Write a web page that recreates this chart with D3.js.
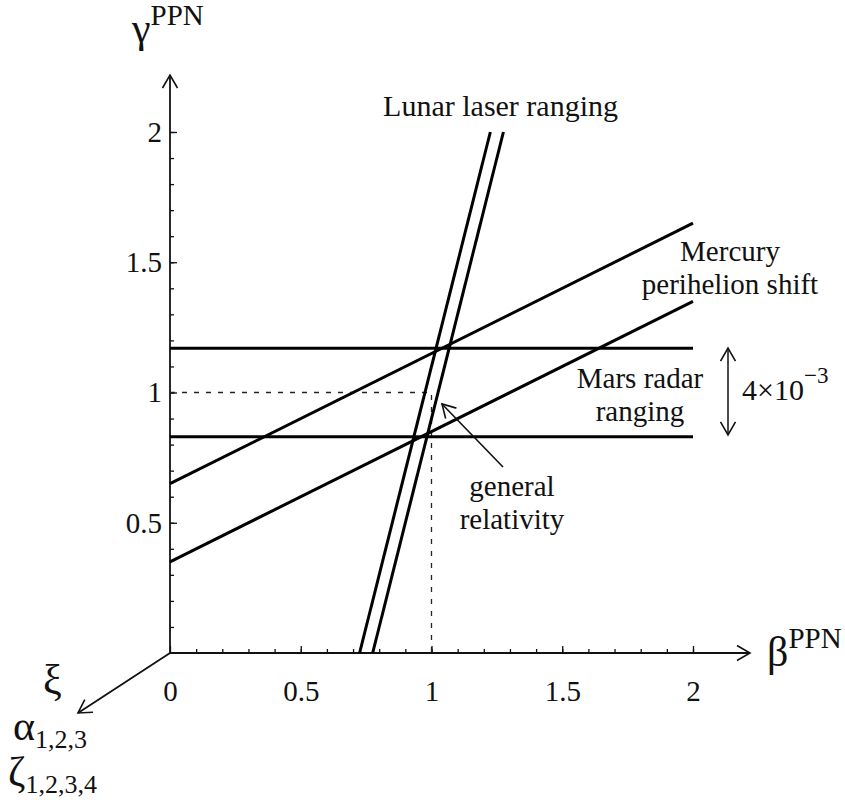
<!DOCTYPE html>
<html>
<head>
<meta charset="utf-8">
<script src="https://cdn.jsdelivr.net/npm/d3@7"></script>
<style>
  body { margin: 0; background: #fff; }
  svg { display: block; font-family: "Liberation Serif", "Times New Roman", serif; }
</style>
</head>
<body>
<svg id="chart" width="845" height="800"></svg>
<script>
"use strict";

// tick labels
const xTicks = [0, 0.5, 1, 1.5, 2];
const yTicks = [0.5, 1, 1.5, 2];
const minorTicks = d3.range(1, 21).map(i => i / 10);

// Mars radar ranging: gamma = const
const marsGamma = [0.83, 1.17];
// Mercury perihelion shift: gamma = c + beta / 2
const mercuryC = [0.35, 0.65];
// Lunar laser ranging: gamma = 4 beta + c
const lunarC = [-2.9, -3.1];
// general relativity
const grPoint = [1, 1];

const x = d3.scaleLinear().domain([0, 2]).range([170, 693]);
const y = d3.scaleLinear().domain([0, 2]).range([653, 132]);

const svg = d3.select("#chart");

const defs = svg.append("defs");
defs.append("marker")
  .attr("id", "arrow")
  .attr("viewBox", "-15 -10 17 20")
  .attr("refX", 0)
  .attr("refY", 0)
  .attr("markerUnits", "userSpaceOnUse")
  .attr("markerWidth", 17)
  .attr("markerHeight", 20)
  .attr("orient", "auto-start-reverse")
  .append("path")
  .attr("d", "M-13,-7.5L0,0L-13,7.5")
  .attr("fill", "none")
  .attr("stroke", "#111")
  .attr("stroke-width", 1.6);

// axes lines with arrows
const axisG = svg.append("g").attr("stroke", "#111").attr("stroke-width", 1.8);
axisG.append("line")
  .attr("x1", x(0)).attr("y1", y(0)).attr("x2", 750).attr("y2", y(0))
  .attr("marker-end", "url(#arrow)");
axisG.append("line")
  .attr("x1", x(0)).attr("y1", y(0)).attr("x2", x(0)).attr("y2", 75)
  .attr("marker-end", "url(#arrow)");
axisG.append("line")
  .attr("x1", x(0)).attr("y1", y(0)).attr("x2", 78).attr("y2", 713)
  .attr("marker-end", "url(#arrow)");

// minor ticks
svg.append("g")
  .attr("transform", `translate(0,${y(0)})`)
  .call(d3.axisBottom(x).tickValues(minorTicks).tickSize(-4).tickFormat(""))
  .call(g => g.select(".domain").remove())
  .call(g => g.selectAll("line").attr("stroke", "#111").attr("stroke-width", 1.3));
svg.append("g")
  .attr("transform", `translate(${x(0)},0)`)
  .call(d3.axisLeft(y).tickValues(minorTicks).tickSize(-4).tickFormat(""))
  .call(g => g.select(".domain").remove())
  .call(g => g.selectAll("line").attr("stroke", "#111").attr("stroke-width", 1.3));

// major ticks with labels
svg.append("g")
  .attr("transform", `translate(0,${y(0)})`)
  .call(d3.axisBottom(x).tickValues(xTicks).tickSize(-7).tickPadding(27).tickFormat(d3.format("")))
  .call(g => g.select(".domain").remove())
  .call(g => g.selectAll("line").attr("stroke", "#111").attr("stroke-width", 1.3))
  .call(g => g.selectAll("text").attr("font-size", 29).attr("font-family", "Liberation Serif").attr("fill", "#111"));
svg.append("g")
  .attr("transform", `translate(${x(0)},0)`)
  .call(d3.axisLeft(y).tickValues(yTicks).tickSize(-7).tickPadding(8).tickFormat(d3.format("")))
  .call(g => g.select(".domain").remove())
  .call(g => g.selectAll("line").attr("stroke", "#111").attr("stroke-width", 1.3))
  .call(g => g.selectAll("text").attr("font-size", 29).attr("font-family", "Liberation Serif").attr("fill", "#111"));

const line = d3.line().x(d => x(d[0])).y(d => y(d[1]));

// dashed guides to GR point
svg.append("path")
  .attr("d", line([[0, grPoint[1]], grPoint, [grPoint[0], 0]]))
  .attr("fill", "none")
  .attr("stroke", "#222")
  .attr("stroke-width", 1.3)
  .attr("stroke-dasharray", "5,7");

// constraint lines
const segs = [];
marsGamma.forEach(g => segs.push([[0, g], [2, g]]));
mercuryC.forEach(c => segs.push([[0, c], [2, c + 1]]));
lunarC.forEach(c => segs.push([[(0 - c) / 4, 0], [(2 - c) / 4, 2]]));

svg.append("g")
  .selectAll("path")
  .data(segs)
  .join("path")
  .attr("d", line)
  .attr("fill", "none")
  .attr("stroke", "#000")
  .attr("stroke-width", 3);

// text
const txt = svg.append("g").attr("fill", "#111").attr("font-size", 29);

function label(xp, yp, s, anchor) {
  return txt.append("text").attr("x", xp).attr("y", yp)
    .attr("text-anchor", anchor || "middle").text(s);
}

label(618, 116, "Lunar laser ranging", "end").attr("font-size", 30);
label(730, 261, "Mercury");
label(730, 294, "perihelion shift");
label(640, 388, "Mars radar");
label(640, 421, "ranging");
label(512, 496, "general");
label(512, 529, "relativity");

// 4x10^-3 with double arrow
svg.append("line")
  .attr("x1", 728).attr("y1", y(marsGamma[1]))
  .attr("x2", 728).attr("y2", y(marsGamma[0]) - 2)
  .attr("stroke", "#111").attr("stroke-width", 1.5)
  .attr("marker-start", "url(#arrow)")
  .attr("marker-end", "url(#arrow)");
const t4 = txt.append("text").attr("x", 742).attr("y", 400).attr("font-size", 30);
t4.append("tspan").text("4×10");
t4.append("tspan").attr("dy", -17).attr("font-size", 23).text("−3");

// GR arrow
svg.append("line")
  .attr("x1", 503).attr("y1", 467)
  .attr("x2", 442).attr("y2", 404)
  .attr("stroke", "#111").attr("stroke-width", 1.6)
  .attr("marker-end", "url(#arrow)");

// axis titles
const gt = txt.append("text").attr("x", 132).attr("y", 42).attr("font-size", 42);
gt.append("tspan").text("γ");
gt.append("tspan").attr("dy", -17).attr("font-size", 29).text("PPN");

const bt = txt.append("text").attr("x", 767).attr("y", 666).attr("font-size", 42);
bt.append("tspan").text("β");
bt.append("tspan").attr("dy", -18).attr("font-size", 29).text("PPN");

label(43, 694, "ξ", "start").attr("font-size", 42);
const at = txt.append("text").attr("x", 13).attr("y", 740).attr("font-size", 42);
at.append("tspan").text("α");
at.append("tspan").attr("dy", 8).attr("font-size", 26).text("1,2,3");
const zt = txt.append("text").attr("x", 8).attr("y", 786).attr("font-size", 42);
zt.append("tspan").text("ζ");
zt.append("tspan").attr("dy", 7).attr("font-size", 26).text("1,2,3,4");
</script>
</body>
</html>
